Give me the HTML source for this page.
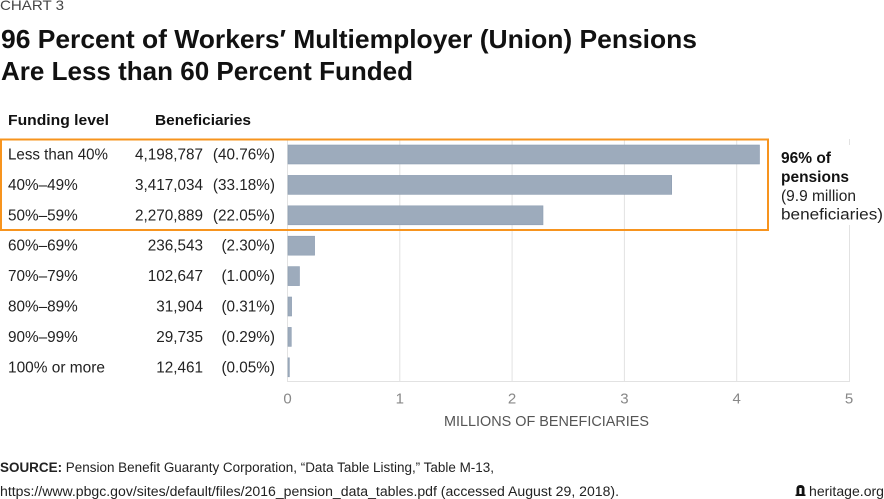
<!DOCTYPE html>
<html><head><meta charset="utf-8"><style>
html,body{margin:0;padding:0;background:#fff;}
svg{display:block;font-family:"Liberation Sans",sans-serif;}
</style></head><body>
<svg width="884" height="499" viewBox="0 0 884 499" xmlns="http://www.w3.org/2000/svg">
<rect width="884" height="499" fill="#fff"/>
<text x="0" y="10" font-size="14" fill="#444" textLength="64" lengthAdjust="spacingAndGlyphs">CHART 3</text>
<text x="1" y="48" font-size="26" font-weight="bold" fill="#111" textLength="696" lengthAdjust="spacingAndGlyphs">96 Percent of Workers′ Multiemployer (Union) Pensions</text>
<text x="1" y="80" font-size="26" font-weight="bold" fill="#111" textLength="412" lengthAdjust="spacingAndGlyphs">Are Less than 60 Percent Funded</text>
<text x="8" y="125" font-size="15" font-weight="bold" fill="#111" textLength="101" lengthAdjust="spacingAndGlyphs">Funding level</text>
<text x="155" y="125" font-size="15" font-weight="bold" fill="#111" textLength="96" lengthAdjust="spacingAndGlyphs">Beneficiaries</text>

<!-- gridlines -->
<g stroke="#e2e2e2" stroke-width="1">
<line x1="287.5" y1="139" x2="287.5" y2="381"/>
<line x1="399.8" y1="139" x2="399.8" y2="381"/>
<line x1="512.1" y1="139" x2="512.1" y2="381"/>
<line x1="624.4" y1="139" x2="624.4" y2="381"/>
<line x1="736.7" y1="139" x2="736.7" y2="381"/>
<line x1="849.5" y1="139" x2="849.5" y2="381"/>
<line x1="287" y1="381.5" x2="850" y2="381.5"/>
</g>

<!-- bars -->
<g fill="#9dabbc" stroke="#8e9eb2" stroke-width="0.6">
<rect x="288" y="145" width="471.5" height="19"/>
<rect x="288" y="175.4" width="383.7" height="19"/>
<rect x="288" y="205.8" width="255" height="19"/>
<rect x="288" y="236.2" width="26.6" height="19"/>
<rect x="288" y="266.6" width="11.5" height="19"/>
<rect x="288" y="297" width="3.6" height="19"/>
<rect x="288" y="327.4" width="3.3" height="19"/>
<rect x="288" y="357.8" width="1.4" height="19"/>
</g>

<!-- rows -->
<g font-size="15.3" fill="#222">
<text x="8" y="159.5" textLength="100" lengthAdjust="spacingAndGlyphs">Less than 40%</text>
<text x="8" y="189.9">40%–49%</text>
<text x="8" y="220.3">50%–59%</text>
<text x="8" y="250.7">60%–69%</text>
<text x="8" y="281.1">70%–79%</text>
<text x="8" y="311.5">80%–89%</text>
<text x="8" y="341.9">90%–99%</text>
<text x="8" y="372.3" textLength="97" lengthAdjust="spacingAndGlyphs">100% or more</text>
</g>
<g font-size="15.3" fill="#222" text-anchor="end">
<text x="203" y="159.5">4,198,787</text>
<text x="203" y="189.9">3,417,034</text>
<text x="203" y="220.3">2,270,889</text>
<text x="203" y="250.7">236,543</text>
<text x="203" y="281.1">102,647</text>
<text x="203" y="311.5">31,904</text>
<text x="203" y="341.9">29,735</text>
<text x="203" y="372.3">12,461</text>
<text x="275" y="159.5">(40.76%)</text>
<text x="275" y="189.9">(33.18%)</text>
<text x="275" y="220.3">(22.05%)</text>
<text x="275" y="250.7">(2.30%)</text>
<text x="275" y="281.1">(1.00%)</text>
<text x="275" y="311.5">(0.31%)</text>
<text x="275" y="341.9">(0.29%)</text>
<text x="275" y="372.3">(0.05%)</text>
</g>

<!-- orange box -->
<rect x="1" y="139.5" width="767" height="90.5" fill="none" stroke="#f7941e" stroke-width="2"/>

<!-- note -->
<rect x="776" y="145" width="108" height="80" fill="#fff"/>
<text x="781" y="163" font-size="15.5" font-weight="bold" fill="#111">96% of</text>
<text x="781" y="182" font-size="15.5" font-weight="bold" fill="#111">pensions</text>
<text x="781" y="201" font-size="15.5" fill="#222">(9.9 million</text>
<text x="781" y="219.5" font-size="15.5" fill="#222" textLength="102" lengthAdjust="spacingAndGlyphs">beneficiaries)</text>

<!-- axis ticks -->
<g font-size="15" fill="#888" text-anchor="middle">
<text x="287.5" y="403.5">0</text>
<text x="399.8" y="403.5">1</text>
<text x="512.1" y="403.5">2</text>
<text x="624.4" y="403.5">3</text>
<text x="736.7" y="403.5">4</text>
<text x="849" y="403.5">5</text>
</g>
<text x="444" y="426" font-size="14.5" fill="#555" textLength="205" lengthAdjust="spacingAndGlyphs">MILLIONS OF BENEFICIARIES</text>

<!-- source -->
<text x="0" y="472" font-size="13.5" fill="#222" textLength="494" lengthAdjust="spacingAndGlyphs"><tspan font-weight="bold">SOURCE:</tspan> Pension Benefit Guaranty Corporation, “Data Table Listing,” Table M-13,</text>
<text x="0" y="496" font-size="13.5" fill="#222" textLength="619" lengthAdjust="spacingAndGlyphs">https://www.pbgc.gov/sites/default/files/2016_pension_data_tables.pdf (accessed August 29, 2018).</text>

<!-- heritage logo -->
<g fill="#111">
<path d="M795.5 496 L795.5 494.5 L796.5 494.5 L796.5 489 Q796.5 485 800.5 485 Q804.5 485 804.5 489 L804.5 494.5 L805.5 494.5 L805.5 496 Z"/>
</g>
<rect x="799.3" y="488" width="2.4" height="6" fill="#fff"/>
<text x="809" y="496" font-size="14" fill="#222" textLength="75" lengthAdjust="spacingAndGlyphs">heritage.org</text>
</svg>
</body></html>
